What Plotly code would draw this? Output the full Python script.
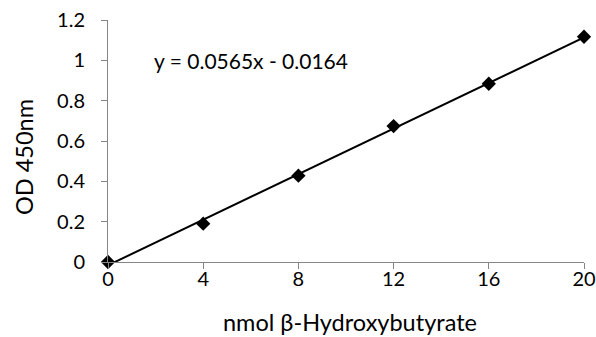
import numpy as np
import plotly.graph_objects as go

# Data
nmol = [0, 4, 8, 12, 16, 20]
od450 = [0.0, 0.19, 0.428, 0.674, 0.884, 1.117]
x_ticks = [0, 4, 8, 12, 16, 20]
y_ticks = [0, 0.2, 0.4, 0.6, 0.8, 1.0, 1.2]
y_tick_labels = ["0", "0.2", "0.4", "0.6", "0.8", "1", "1.2"]
slope = 0.0565
intercept = -0.0164
equation = "y = 0.0565x - 0.0164"
x_title = "nmol β-Hydroxybutyrate"
y_title = "OD 450nm"

FONT = "Lato"
TICK = 20
EQ = 21
TITLE = 23.5
trend_x = np.array([min(nmol), max(nmol)], dtype=float)
trend_y = slope * trend_x + intercept

ML, MR, MT, MB = 108, 12, 20, 75
W, H = 596, 337
pw = W - ML - MR
ph = H - MT - MB

fig = go.Figure()
fig.add_trace(go.Scatter(x=trend_x, y=trend_y, mode="lines",
                         line=dict(color="black", width=2), showlegend=False,
                         hoverinfo="skip"))
fig.add_trace(go.Scatter(x=nmol, y=od450, mode="markers",
                         marker=dict(symbol="diamond", size=11, color="black"),
                         cliponaxis=False, showlegend=False))

fig.update_layout(
    width=W, height=H,
    margin=dict(l=ML, r=MR, t=MT, b=MB, autoexpand=False),
    paper_bgcolor="white", plot_bgcolor="white",
    font=dict(family=FONT, size=TICK, color="black"),
    xaxis=dict(range=[0, 20], tickvals=x_ticks, showgrid=False, zeroline=False,
               showline=True, linecolor="#868686", linewidth=1,
               ticks="outside", ticklen=6, tickcolor="#868686",
               automargin=False, ticklabelstandoff=-7,
               tickfont=dict(family=FONT, size=TICK)),
    yaxis=dict(range=[0, 1.2], tickvals=y_ticks, ticktext=y_tick_labels,
               showgrid=False, zeroline=False,
               showline=True, linecolor="#868686", linewidth=1,
               ticks="outside", ticklen=6, tickcolor="#868686",
               ticklabelstandoff=12, automargin=False,
               tickfont=dict(family=FONT, size=TICK)),
    annotations=[
        dict(text=equation, x=1.85, y=1.0, xref="x", yref="y", xanchor="left",
             yanchor="middle", showarrow=False, font=dict(family=FONT, size=EQ)),
        dict(text=x_title, x=(350 - ML) / pw, y=(H - MB - 322) / ph,
             xref="paper", yref="paper", xanchor="center", yanchor="middle",
             showarrow=False, font=dict(family=FONT, size=TITLE)),
        dict(text=y_title, x=(24 - ML) / pw, y=(H - MB - 157) / ph,
             xref="paper", yref="paper",
             xanchor="center", yanchor="middle",
             showarrow=False, textangle=-90, font=dict(family=FONT, size=TITLE)),
    ],
)

fig.write_html("out.html", config={"displayModeBar": False},
               post_script="document.body.style.margin='0';document.body.style.overflow='hidden';")
